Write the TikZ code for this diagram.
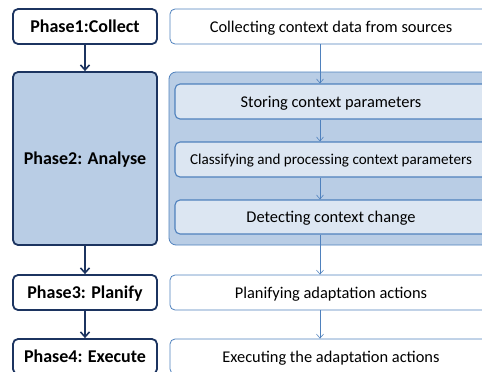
\documentclass[tikz,border=0pt]{standalone}
\usepackage{fontspec}
\setmainfont{Carlito}
\usetikzlibrary{arrows.meta}
\definecolor{navy}{RGB}{28,52,96}
\definecolor{midblue}{RGB}{79,129,189}
\definecolor{lightfill}{RGB}{185,205,229}
\definecolor{paler}{RGB}{220,230,242}
\tikzset{
  phasebox/.style={draw=navy, line width=1.8pt, rounded corners=5pt, fill=white, inner sep=0pt, minimum width=144pt, minimum height=35pt, text depth=0pt, font=\bfseries\fontsize{18}{21}\selectfont},
  stepbox/.style={draw=midblue, line width=0.8pt, rounded corners=5pt, fill=white, inner sep=0pt, minimum width=322pt, minimum height=35pt, text depth=0pt, font=\fontsize{16.4}{19}\selectfont},
  innerbox/.style={draw=midblue, line width=1.1pt, rounded corners=5pt, fill=paler, inner sep=0pt, minimum width=312pt, minimum height=35pt, text depth=0pt, font=\fontsize{16.4}{19}\selectfont},
  container/.style={draw=midblue, line width=0.8pt, rounded corners=7pt, fill=lightfill, inner sep=0pt, minimum width=325pt, minimum height=173pt},
  phasearrow/.style={draw=navy, line width=1.8pt, -{Straight Barb[length=5pt,width=9pt,line width=1.6pt]}},
  steparrow/.style={draw=midblue, line width=0.6pt, -{Straight Barb[length=4pt,width=7pt]}}
}
\begin{document}
\begin{tikzpicture}[x=1pt,y=-1pt]
\useasboundingbox (0,0) rectangle (482,372);
\begin{scope}
\clip (0,0) rectangle (482,372);
% left phases
\node[phasebox] (p1) at (85,26.5) {Phase1:Collect};
\node[phasebox, fill=lightfill, minimum height=173pt] (p2) at (85,158.5) {Phase2: Analyse};
\node[phasebox] (p3) at (85,292.5) {Phase3: Planify};
\node[phasebox] (p4) at (85,356.5) {Phase4: Execute};
% right
\node[stepbox] (s1) at (331,26.5) {Collecting context data from sources};
\node[container] (box) at (331.5,158.5) {};
\node[innerbox] (s2) at (331,101.5) {Storing context parameters};
\node[innerbox, font=\fontsize{15.1}{18}\selectfont] (s3) at (331,159.5) {Classifying and processing context parameters};
\node[innerbox, minimum height=34pt] (s4) at (331,217) {Detecting context change};
\node[stepbox] (s5) at (331,292.5) {Planifying adaptation actions};
\node[stepbox] (s6) at (331,356.5) {Executing the adaptation actions};
\coordinate (cx) at (320,0);
\draw[steparrow] (cx |- s1.south) -- (cx |- s2.north);
\draw[steparrow] (cx |- s2.south) -- (cx |- s3.north);
\draw[steparrow] (cx |- s3.south) -- (cx |- s4.north);
\draw[steparrow] (cx |- s4.south) -- (cx |- s5.north);
\draw[steparrow] (cx |- s5.south) -- (cx |- s6.north);
\draw[phasearrow] (p1) -- (p2);
\draw[phasearrow] (p2) -- (p3);
\draw[phasearrow] (p3) -- (p4);
\end{scope}
\end{tikzpicture}
\end{document}
